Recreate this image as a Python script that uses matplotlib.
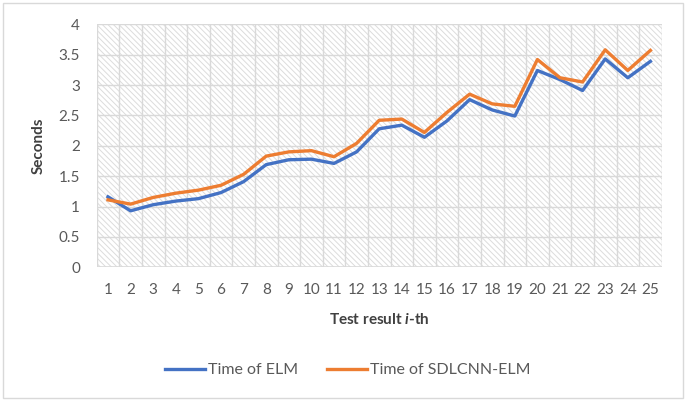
import matplotlib
matplotlib.use("Agg")
import matplotlib.pyplot as plt
from matplotlib.patches import Rectangle
import numpy as np

tests = list(range(1, 26))
elm = [1.16, 0.93, 1.03, 1.09, 1.13, 1.23, 1.41, 1.69, 1.77, 1.78, 1.71, 1.90, 2.28, 2.34, 2.14,
       2.41, 2.76, 2.59, 2.49, 3.24, 3.09, 2.91, 3.43, 3.12, 3.39]
sdlcnn = [1.11, 1.04, 1.15, 1.22, 1.27, 1.35, 1.53, 1.83, 1.90, 1.92, 1.82, 2.04, 2.42, 2.44, 2.22,
          2.55, 2.85, 2.69, 2.65, 3.42, 3.12, 3.05, 3.58, 3.24, 3.57]
yticks = [0, 0.5, 1, 1.5, 2, 2.5, 3, 3.5, 4]
ytick_labels = ["0", "0.5", "1", "1.5", "2", "2.5", "3", "3.5", "4"]

plt.rcParams['font.family'] = ['Lato', 'DejaVu Sans']
plt.rcParams['mathtext.fontset'] = 'custom'
plt.rcParams['mathtext.bfit'] = 'Lato:bold:italic'
plt.rcParams['mathtext.bf'] = 'Lato:bold'
plt.rcParams['mathtext.rm'] = 'Lato'
plt.rcParams['hatch.color'] = '#dcdcdc'
plt.rcParams['hatch.linewidth'] = 0.7

fig = plt.figure(figsize=(6.88, 4.08), dpi=100)
ax = fig.add_axes([96.7/688, 1 - 267.3/408, 565/688, (267.3 - 24.3)/408])

x = np.arange(len(tests))
ax.set_xlim(-0.5, len(tests) - 0.5)
ax.set_ylim(0, 4)

# hatched background
ax.add_patch(Rectangle((0, 0), 1, 1, transform=ax.transAxes, facecolor='white',
                       edgecolor='#dcdcdc', hatch='\\\\\\\\\\\\', linewidth=0, zorder=0))

for yv in yticks[1:]:
    ax.axhline(yv, color='#d9d9d9', lw=1.0, zorder=1)
for xv in np.arange(-0.5, len(tests) + 0.5, 1):
    ax.axvline(xv, color='#d9d9d9', lw=1.0, zorder=1)
ax.axhline(0, color='#d9d9d9', lw=1.2, zorder=1)

l1, = ax.plot(x, elm, color='#4472C4', lw=2.4, solid_joinstyle='round', zorder=3, label='Time of ELM')
l2, = ax.plot(x, sdlcnn, color='#ED7D31', lw=2.4, solid_joinstyle='round', zorder=3, label='Time of SDLCNN-ELM')

for s in ax.spines.values():
    s.set_visible(False)
ax.set_xticks(x)
ax.set_xticklabels([str(t) for t in tests])
ax.set_yticks(yticks)
ax.set_yticklabels(ytick_labels)
ax.tick_params(length=0, labelsize=11, labelcolor='#595959')
ax.tick_params(axis='x', pad=11)
ax.tick_params(axis='y', pad=12)

ax.set_ylabel('Seconds', fontsize=11, fontweight='bold', color='#404040', labelpad=9)
fig.text((96.7 + 565 / 2) / 688, 1 - 320 / 408, r'Test result $\mathbfit{i}$-th', ha='center', va='center',
         fontsize=11, fontweight='bold', color='#404040')

fig.legend(handles=[l1, l2], loc='center', bbox_to_anchor=(348 / 688, 1 - 370 / 408), ncol=2, frameon=False,
           fontsize=11.5, labelcolor='#595959', handlelength=2.5, columnspacing=1.8, handletextpad=0.2)

fig.add_artist(Rectangle((3 / 688, 1 - 398 / 408), 680 / 688, 395 / 408, transform=fig.transFigure,
                         fill=False, edgecolor='#d9d9d9', lw=1))

fig.savefig('out.png', dpi=100)
